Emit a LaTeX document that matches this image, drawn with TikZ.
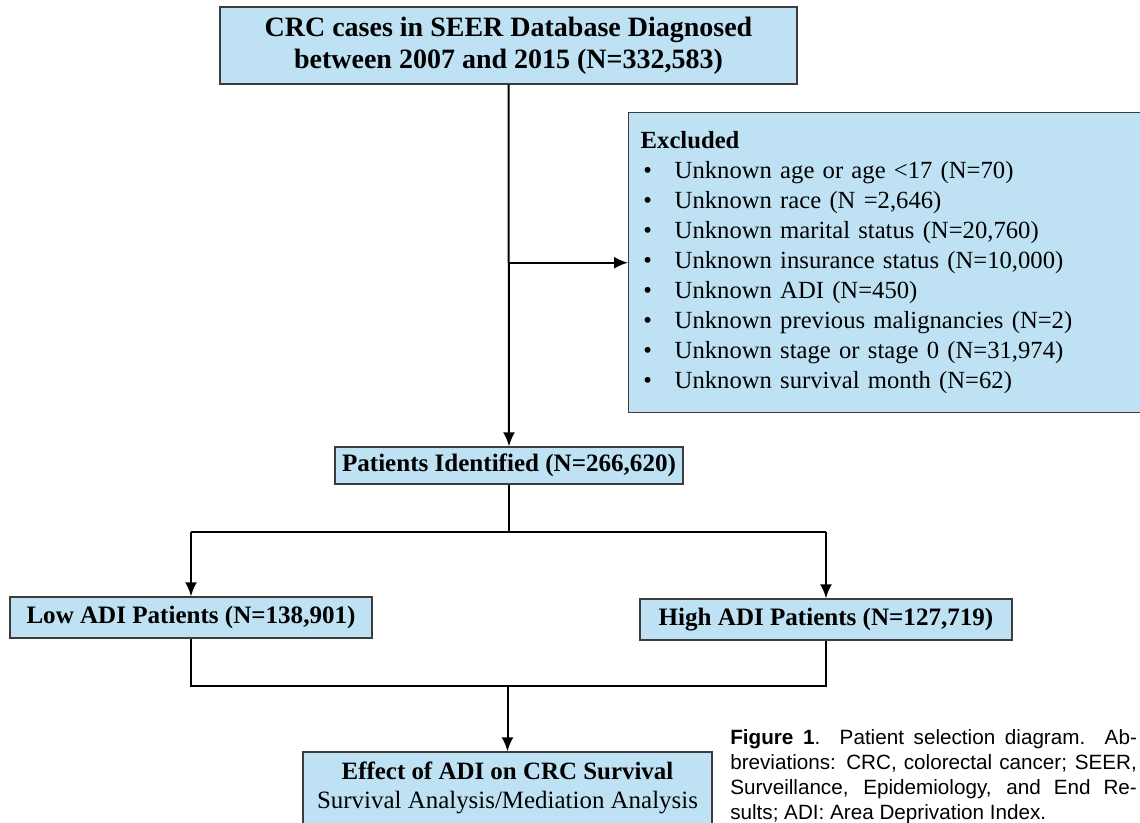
\documentclass[tikz,border=0pt]{standalone}
\usepackage{fontspec}
\setmainfont{Liberation Serif}
\newfontfamily\capfont{Liberation Sans}
\usetikzlibrary{arrows.meta}
\definecolor{boxblue}{RGB}{190,226,244}
\definecolor{boxline}{RGB}{60,60,60}

\begin{document}
\begin{tikzpicture}[x=0.75pt,y=-0.75pt,>={Latex[length=10.5pt,width=9pt]},
	box/.style={draw=boxline,fill=boxblue,line width=1.1pt,inner sep=0pt,align=center},
	link/.style={line width=1.5pt}]
	\clip (0,0) rectangle (1140,822);
	\fill[white] (0,0) rectangle (1140,822);
	% boxes
	\node[box,minimum width=432.75pt,minimum height=57.75pt,
		font=\fontsize{21}{24}\selectfont\bfseries] (crc) at (508.5,45.5)
		{CRC cases in SEER Database Diagnosed\\between 2007 and 2015 (N=332,583)};
	\node[box,anchor=north west,minimum width=420pt,minimum height=225pt,
		text width=402pt,inner xsep=9pt,align=left,
		font=\fontsize{18.5}{22.5}\selectfont] (excl) at (628,112)
		{\textbf{Excluded}\\
		\makebox[25.5pt][l]{\hspace*{2pt}\textbullet}Unknown age or age <17 (N=70)\\
		\makebox[25.5pt][l]{\hspace*{2pt}\textbullet}Unknown race (N =2,646)\\
		\makebox[25.5pt][l]{\hspace*{2pt}\textbullet}Unknown marital status (N=20,760)\\
		\makebox[25.5pt][l]{\hspace*{2pt}\textbullet}Unknown insurance status (N=10,000)\\
		\makebox[25.5pt][l]{\hspace*{2pt}\textbullet}Unknown ADI (N=450)\\
		\makebox[25.5pt][l]{\hspace*{2pt}\textbullet}Unknown previous malignancies (N=2)\\
		\makebox[25.5pt][l]{\hspace*{2pt}\textbullet}Unknown stage or stage 0 (N=31,974)\\
		\makebox[25.5pt][l]{\hspace*{2pt}\textbullet}Unknown survival month (N=62)};
	\node[box,minimum width=261pt,minimum height=27.75pt,
		font=\fontsize{18.8}{20}\selectfont\bfseries] (pat) at (509,465.5)
		{Patients Identified (N=266,620)};
	\node[box,minimum width=271.5pt,minimum height=30.75pt,
		font=\fontsize{18.8}{20}\selectfont\bfseries] (low) at (191,617.5)
		{Low ADI Patients (N=138,901)};
	\node[box,minimum width=279pt,minimum height=30.75pt,
		font=\fontsize{18.8}{20}\selectfont\bfseries] (high) at (826,619.5)
		{High ADI Patients (N=127,719)};
	\node[box,minimum width=306.75pt,minimum height=54pt,
		font=\fontsize{18.7}{22}\selectfont] (eff) at (507.5,788)
		{\textbf{Effect of ADI on CRC Survival}\\Survival Analysis/Mediation Analysis};
	% connectors
	\draw[link,->] (crc.south) -- (pat.north);
	\draw[link,->] (crc.south |- excl.west) -- (excl.west);
	\draw[link] (pat.south) -- ++(0,47) coordinate (split);
	\draw[link] (low.north |- split) -- (high.north |- split);
	\draw[link,->] (low.north |- split) -- (low.north);
	\draw[link,->] (high.north |- split) -- (high.north);
	\coordinate (merge) at (eff.north |- 0,686);
	\draw[link] (low.south) |- (merge) -| (high.south);
	\draw[link,->] (merge) -- (eff.north);
	% caption
	\node[anchor=north west,inner sep=0pt,text width=305pt,align=justify,
		font=\capfont\fontsize{15.5}{18.75}\selectfont] (cap) at (730,729)
		{\textbf{Figure 1}. Patient selection diagram. Ab-\linebreak breviations:
		CRC, colorectal cancer; SEER,\linebreak Surveillance, Epidemiology, and
		End Re-\linebreak sults; ADI: Area Deprivation Index.};
\end{tikzpicture}
\end{document}
